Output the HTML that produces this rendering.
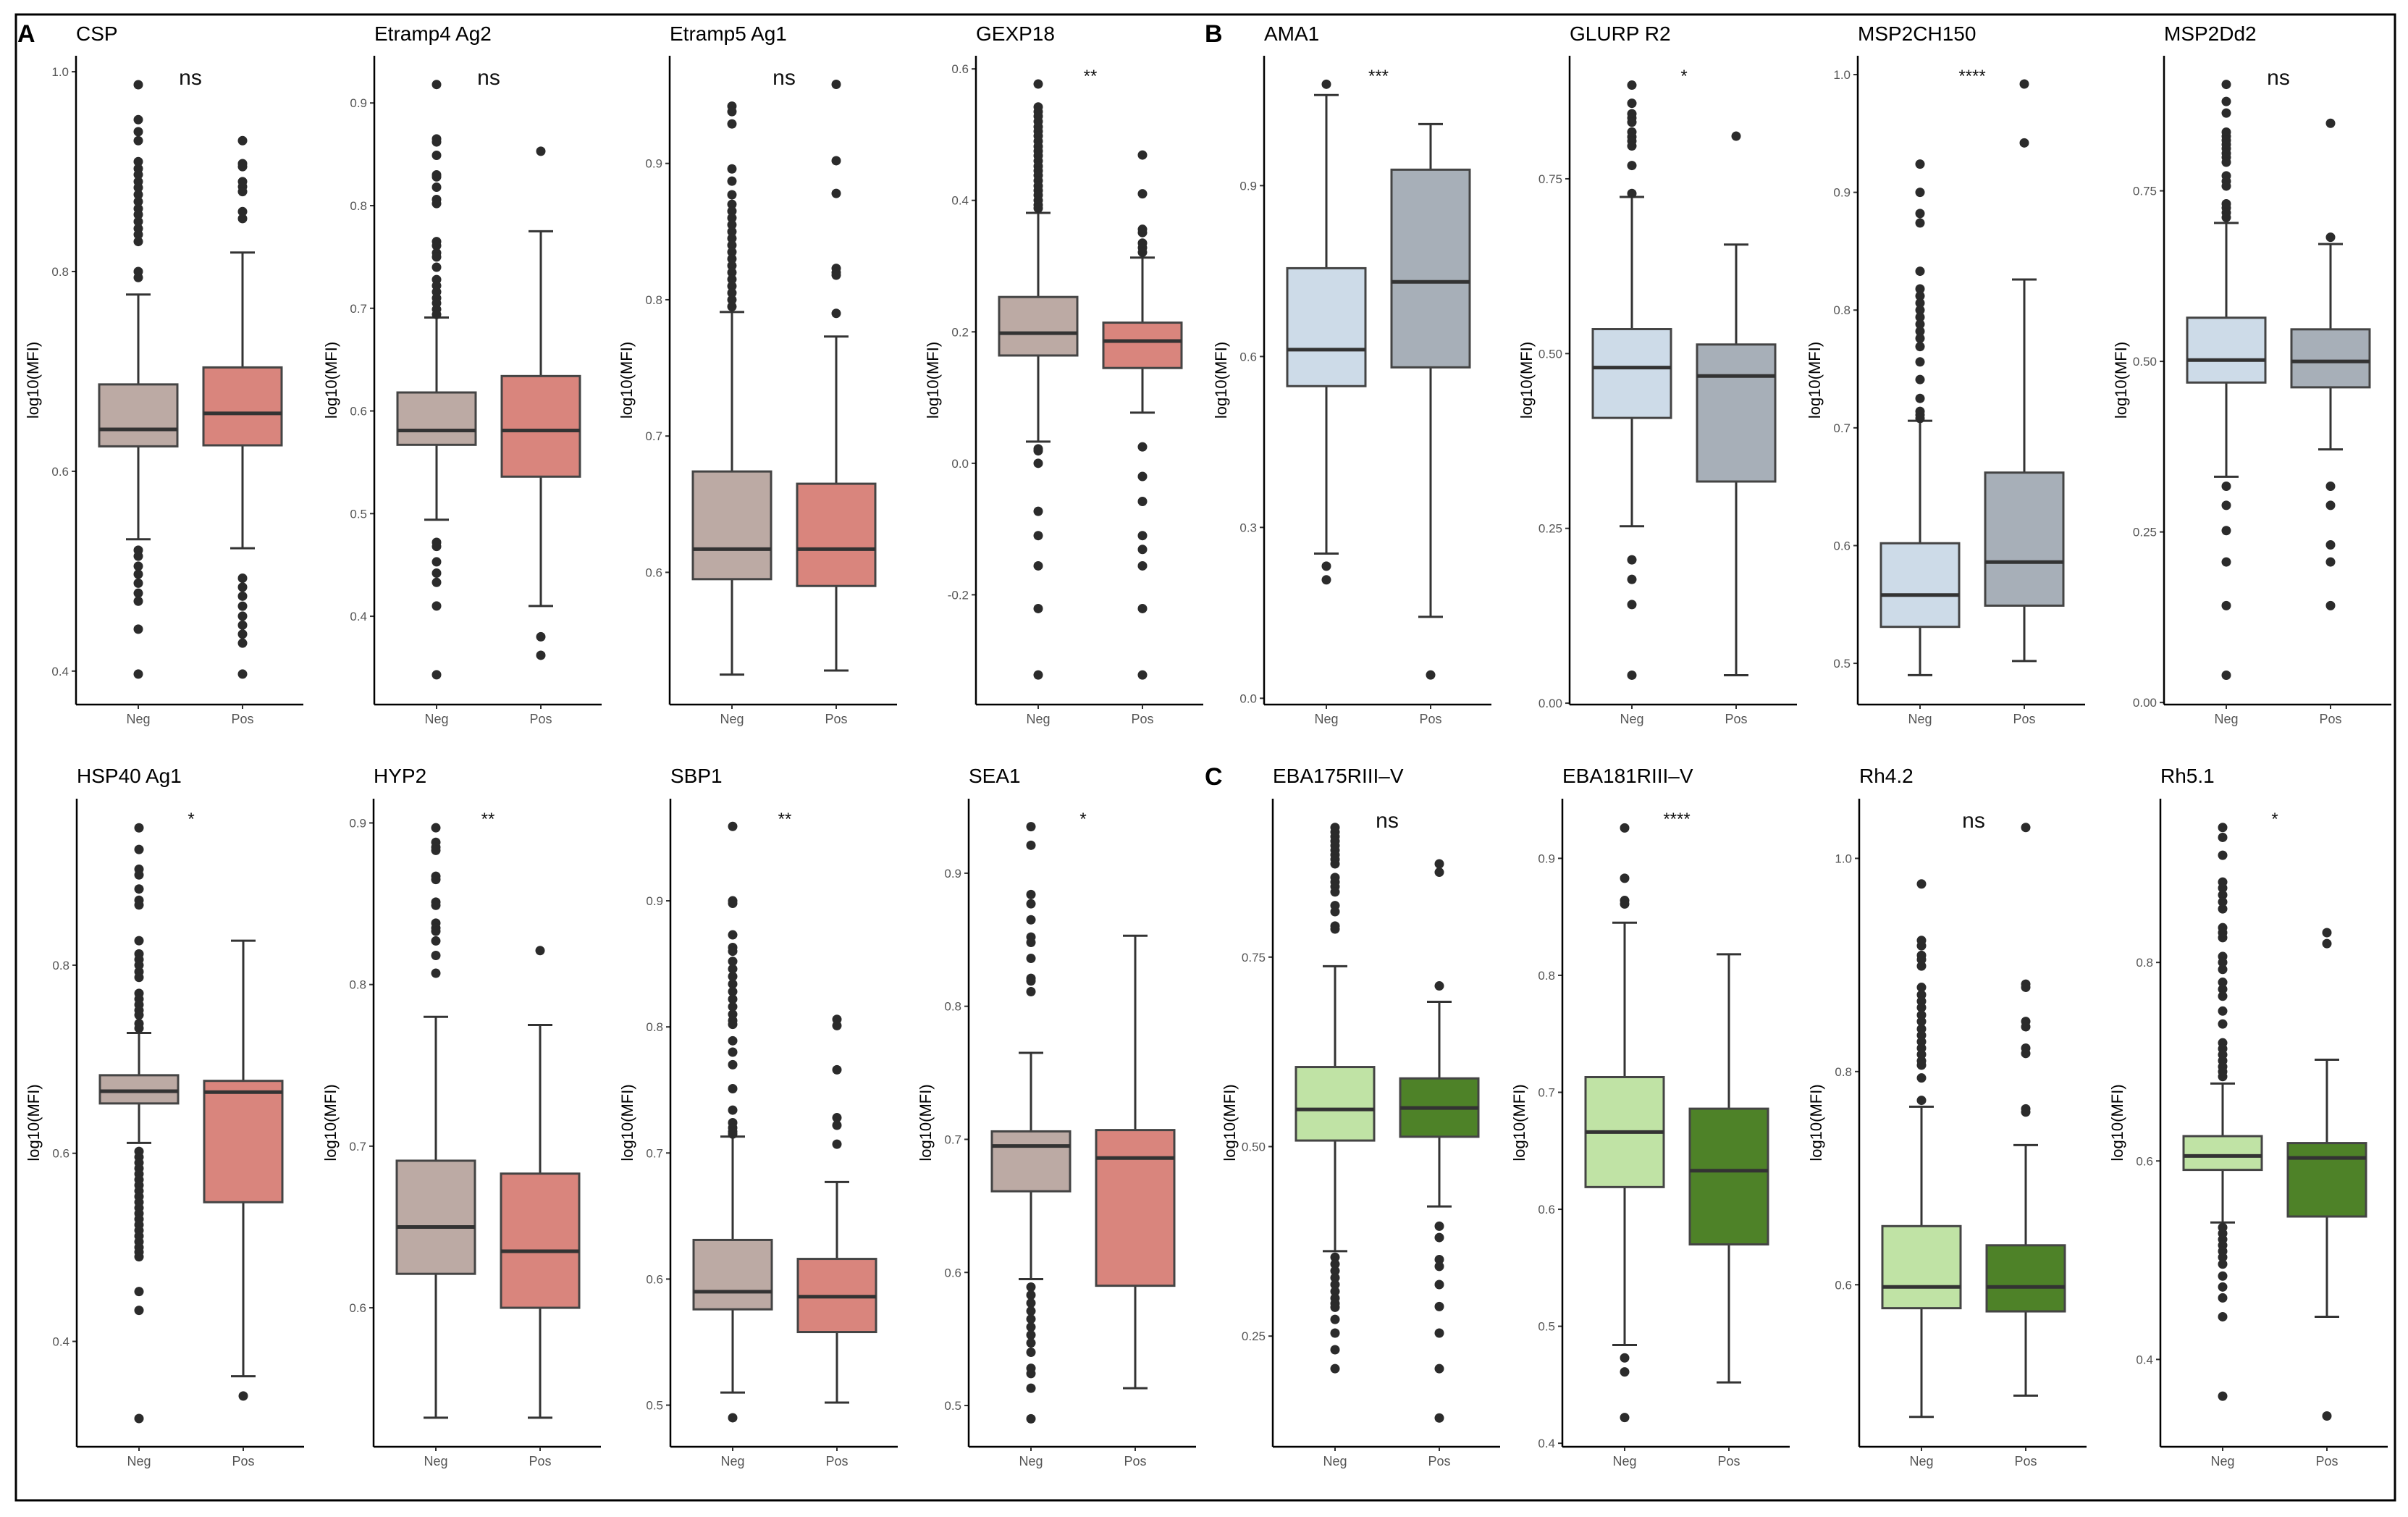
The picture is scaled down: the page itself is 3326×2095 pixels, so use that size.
<!DOCTYPE html>
<html><head><meta charset="utf-8"><style>
html,body{margin:0;padding:0;background:#fff;}
svg{display:block;font-family:"Liberation Sans",Arial,sans-serif;}
</style></head><body>
<svg id="fig" width="3326" height="2095" viewBox="0 0 3326 2095" xmlns="http://www.w3.org/2000/svg">
<rect x="22" y="20" width="3286" height="2052" fill="#fff" stroke="#000" stroke-width="3"/>
<text x="24" y="58" font-size="34" font-weight="bold">A</text>
<text x="1664" y="58" font-size="34" font-weight="bold">B</text>
<text x="1664" y="1084" font-size="34" font-weight="bold">C</text>
</svg>
<script>
const panelNames=["CSP","Etramp4 Ag2","Etramp5 Ag1","GEXP18","AMA1","GLURP R2","MSP2CH150","MSP2Dd2","HSP40 Ag1","HYP2","SBP1","SEA1","EBA175RIII\u2013V","EBA181RIII\u2013V","Rh4.2","Rh5.1"];
const sigLabels=["ns","ns","ns","**","***","*","****","ns","*","**","**","*","ns","****","ns","*"];
const groupCategories=["Neg","Pos"];
const panelGroup=["A","A","A","A","B","B","B","B","A","A","A","A","C","C","C","C"];
const yDomains=[[0.3665,1.016],[0.314,0.946],[0.503,0.979],[-0.367,0.62],[-0.011,1.128],[-0.002,0.926],[0.465,1.016],[-0.003,0.948],[0.288,0.977],[0.514,0.915],[0.467,0.981],[0.469,0.956],[0.104,0.959],[0.397,0.951],[0.448,1.056],[0.312,0.965]];
const yTicks=[[0.4,0.6,0.8,1.0],[0.4,0.5,0.6,0.7,0.8,0.9],[0.6,0.7,0.8,0.9],[-0.2,0,0.2,0.4,0.6],[0,0.3,0.6,0.9],[0,0.25,0.5,0.75],[0.5,0.6,0.7,0.8,0.9,1.0],[0,0.25,0.5,0.75],[0.4,0.6,0.8],[0.6,0.7,0.8,0.9],[0.5,0.6,0.7,0.8,0.9],[0.5,0.6,0.7,0.8,0.9],[0.25,0.5,0.75],[0.4,0.5,0.6,0.7,0.8,0.9],[0.6,0.8,1.0],[0.4,0.6,0.8]];
const yTickLabels=[["0.4","0.6","0.8","1.0"],["0.4","0.5","0.6","0.7","0.8","0.9"],["0.6","0.7","0.8","0.9"],["-0.2","0.0","0.2","0.4","0.6"],["0.0","0.3","0.6","0.9"],["0.00","0.25","0.50","0.75"],["0.5","0.6","0.7","0.8","0.9","1.0"],["0.00","0.25","0.50","0.75"],["0.4","0.6","0.8"],["0.6","0.7","0.8","0.9"],["0.5","0.6","0.7","0.8","0.9"],["0.5","0.6","0.7","0.8","0.9"],["0.25","0.50","0.75"],["0.4","0.5","0.6","0.7","0.8","0.9"],["0.6","0.8","1.0"],["0.4","0.6","0.8"]];
const negStats=[[0.532,0.625,0.642,0.687,0.777],[0.494,0.567,0.581,0.618,0.691],[0.525,0.595,0.617,0.674,0.791],[0.033,0.164,0.198,0.253,0.381],[0.254,0.548,0.612,0.755,1.059],[0.253,0.408,0.48,0.535,0.724],[0.49,0.531,0.558,0.602,0.706],[0.331,0.469,0.502,0.564,0.703],[0.611,0.653,0.666,0.683,0.728],[0.532,0.621,0.65,0.691,0.78],[0.51,0.576,0.59,0.631,0.713],[0.595,0.661,0.695,0.706,0.765],[0.362,0.508,0.549,0.605,0.738],[0.484,0.619,0.666,0.713,0.845],[0.476,0.578,0.598,0.655,0.767],[0.538,0.591,0.605,0.625,0.678]];
const posStats=[[0.523,0.626,0.658,0.704,0.819],[0.41,0.536,0.581,0.634,0.775],[0.528,0.59,0.617,0.665,0.773],[0.077,0.145,0.186,0.214,0.313],[0.143,0.581,0.731,0.928,1.008],[0.04,0.317,0.468,0.513,0.656],[0.502,0.549,0.586,0.662,0.826],[0.371,0.462,0.5,0.547,0.672],[0.363,0.548,0.665,0.677,0.826],[0.532,0.6,0.635,0.683,0.775],[0.502,0.558,0.586,0.616,0.677],[0.513,0.59,0.686,0.707,0.853],[0.421,0.513,0.551,0.59,0.691],[0.452,0.57,0.633,0.686,0.818],[0.496,0.575,0.598,0.637,0.731],[0.443,0.544,0.603,0.618,0.702]];
const negOutliers=[
[0.987,0.952,0.94,0.931,0.91,0.903,0.897,0.89,0.884,0.877,0.87,0.863,0.857,0.85,0.843,0.837,0.83,0.80,0.794,0.521,0.515,0.505,0.497,0.488,0.478,0.47,0.442,0.397],
[0.918,0.865,0.862,0.849,0.83,0.828,0.818,0.806,0.802,0.765,0.761,0.754,0.75,0.74,0.728,0.722,0.716,0.71,0.705,0.699,0.694,0.472,0.468,0.453,0.442,0.433,0.41,0.343],
[0.942,0.938,0.929,0.896,0.887,0.877,0.87,0.865,0.86,0.855,0.85,0.845,0.84,0.835,0.83,0.825,0.82,0.815,0.81,0.805,0.8,0.795],
[0.577,0.542,0.535,0.528,0.52,0.512,0.505,0.498,0.49,0.482,0.475,0.468,0.46,0.452,0.445,0.438,0.43,0.422,0.415,0.408,0.4,0.393,0.388,0.022,0.019,0.0,-0.073,-0.11,-0.156,-0.221,-0.322],
[1.078,0.232,0.208],
[0.884,0.858,0.843,0.837,0.831,0.817,0.81,0.804,0.797,0.769,0.729,0.205,0.177,0.141,0.04],
[0.924,0.9,0.882,0.874,0.833,0.818,0.812,0.806,0.8,0.794,0.788,0.782,0.776,0.769,0.756,0.741,0.725,0.714,0.711,0.708],
[0.906,0.881,0.864,0.836,0.83,0.824,0.818,0.812,0.805,0.799,0.792,0.772,0.764,0.757,0.731,0.725,0.718,0.711,0.317,0.289,0.252,0.206,0.142,0.04],
[0.946,0.923,0.902,0.896,0.881,0.869,0.864,0.826,0.812,0.806,0.8,0.793,0.787,0.77,0.764,0.758,0.752,0.747,0.738,0.733,0.602,0.596,0.59,0.584,0.578,0.572,0.566,0.56,0.554,0.548,0.542,0.536,0.53,0.524,0.518,0.512,0.506,0.5,0.495,0.49,0.453,0.433,0.318],
[0.897,0.888,0.885,0.883,0.867,0.865,0.851,0.849,0.838,0.835,0.833,0.827,0.818,0.807],
[0.959,0.9,0.898,0.873,0.863,0.86,0.852,0.846,0.84,0.834,0.828,0.822,0.816,0.81,0.805,0.802,0.789,0.78,0.77,0.751,0.734,0.724,0.72,0.717,0.715,0.49],
[0.935,0.921,0.884,0.877,0.865,0.852,0.848,0.836,0.821,0.819,0.811,0.589,0.583,0.577,0.571,0.565,0.559,0.553,0.547,0.54,0.528,0.524,0.513,0.49],
[0.921,0.915,0.909,0.903,0.897,0.891,0.885,0.879,0.873,0.855,0.849,0.843,0.836,0.818,0.81,0.791,0.787,0.354,0.345,0.336,0.327,0.318,0.309,0.3,0.293,0.288,0.272,0.254,0.232,0.207],
[0.926,0.883,0.864,0.861,0.473,0.461,0.422],
[0.976,0.923,0.918,0.909,0.905,0.899,0.879,0.872,0.866,0.86,0.853,0.847,0.84,0.834,0.828,0.822,0.816,0.81,0.806,0.794,0.773],
[0.936,0.926,0.908,0.881,0.875,0.868,0.861,0.854,0.835,0.83,0.825,0.806,0.8,0.793,0.78,0.773,0.766,0.751,0.738,0.719,0.713,0.707,0.701,0.695,0.69,0.685,0.533,0.527,0.521,0.515,0.509,0.503,0.496,0.484,0.473,0.462,0.443,0.363]];
const posOutliers=[
[0.931,0.908,0.905,0.89,0.885,0.88,0.86,0.853,0.493,0.484,0.475,0.465,0.455,0.446,0.437,0.428,0.397],
[0.853,0.38,0.362],
[0.958,0.902,0.878,0.823,0.82,0.818,0.79],
[0.469,0.41,0.356,0.351,0.335,0.328,0.321,0.025,-0.02,-0.058,-0.11,-0.131,-0.156,-0.221,-0.322],
[0.041],
[0.811],
[0.992,0.942],
[0.849,0.682,0.317,0.289,0.231,0.206,0.142],
[0.342],
[0.821],
[0.806,0.801,0.766,0.728,0.722,0.707],
[],
[0.873,0.862,0.712,0.395,0.38,0.351,0.342,0.318,0.289,0.254,0.207,0.142],
[],
[1.029,0.882,0.879,0.847,0.842,0.822,0.817,0.765,0.762],
[0.83,0.819,0.343]];

const NS="http://www.w3.org/2000/svg";
const svg=document.getElementById("fig");
const colX=[[105,517,925,1348,1746,2168,2566,2989],[106,516,926,1338,1758,2158,2568,2984]];
const rowTop=[77,1103], rowBot=[973,1998];
const axisW=314, negOff=86, posOff=230, boxHalf=54, capHalf=17;
const fills={A:["#bcaaa4","#d9857d"],B:["#cddbe8","#a7afb8"],C:["#c0e3a5","#4e8228"]};
function mk(tag,attrs,parent){const e=document.createElementNS(NS,tag);for(const k in attrs)e.setAttribute(k,attrs[k]);(parent||svg).appendChild(e);return e;}

panelNames.forEach((name,i)=>{
  const row=i<8?0:1, col=i%8;
  const ax=colX[row][col], top=rowTop[row], bot=rowBot[row];
  const [d0,d1]=yDomains[i];
  const y=v=>bot-(v-d0)/(d1-d0)*(bot-top);
  const g=mk("g",{});
  
  
  const t=mk("text",{x:ax,y:row?1081:56,"font-size":28,fill:"#000"},g);t.textContent=name;
  
  
  const yt=mk("text",{x:0,y:0,"font-size":22,fill:"#000","text-anchor":"middle",transform:`translate(${ax-52},${(top+bot)/2}) rotate(-90)`},g);yt.textContent="log10(MFI)";
  
  
  yTicks[i].forEach((tv,k)=>{
    const yy=y(tv);
    const tl=mk("line",{x1:ax-6,x2:ax,y1:yy,y2:yy,stroke:"#333","stroke-width":2},g);
    
    
    const tx=mk("text",{x:ax-10,y:yy+6,"font-size":17,fill:"#555","text-anchor":"end"},g);tx.textContent=yTickLabels[i][k];
    
    
  });
  const ya=mk("line",{x1:ax,x2:ax,y1:top,y2:bot,stroke:"#000","stroke-width":2.5},g);
  
  
  const xa=mk("line",{x1:ax,x2:ax+axisW,y1:bot,y2:bot,stroke:"#000","stroke-width":2.5},g);
  
  
  const stats=[negStats[i],posStats[i]], outs=[negOutliers[i],posOutliers[i]];
  groupCategories.forEach((cat,j)=>{
    const cx=ax+(j?posOff:negOff);
    const xt=mk("line",{x1:cx,x2:cx,y1:bot,y2:bot+6,stroke:"#333","stroke-width":2},g);
    
    
    const xl=mk("text",{x:cx,y:bot+26,"font-size":18,fill:"#555","text-anchor":"middle"},g);xl.textContent=cat;
    
    
    const [lw,q1,md,q3,uw]=stats[j];
    const wh=mk("path",{d:`M${cx},${y(uw)}V${y(q3)}M${cx},${y(q1)}V${y(lw)}M${cx-capHalf},${y(uw)}H${cx+capHalf}M${cx-capHalf},${y(lw)}H${cx+capHalf}`,stroke:"#333","stroke-width":3,fill:"none"},g);
    
    
    const bx=mk("rect",{x:cx-boxHalf,y:y(q3),width:boxHalf*2,height:y(q1)-y(q3),fill:fills[panelGroup[i]][j],stroke:"#444","stroke-width":3},g);
    
    
    const ml=mk("line",{x1:cx-boxHalf,x2:cx+boxHalf,y1:y(md),y2:y(md),stroke:"#333","stroke-width":5},g);
    
    
    outs[j].forEach(v=>{
      const c=mk("circle",{cx:cx,cy:y(v),r:6.5,fill:"#2b2b2b"},g);
      
      
    });
  });
  const s=sigLabels[i];
  const st=mk("text",{x:ax+158,y:s==="ns"?top+40:top+36,"font-size":s==="ns"?30:24,fill:"#111","text-anchor":"middle"},g);
  st.textContent=s;
  
  
});
</script>
</body></html>
